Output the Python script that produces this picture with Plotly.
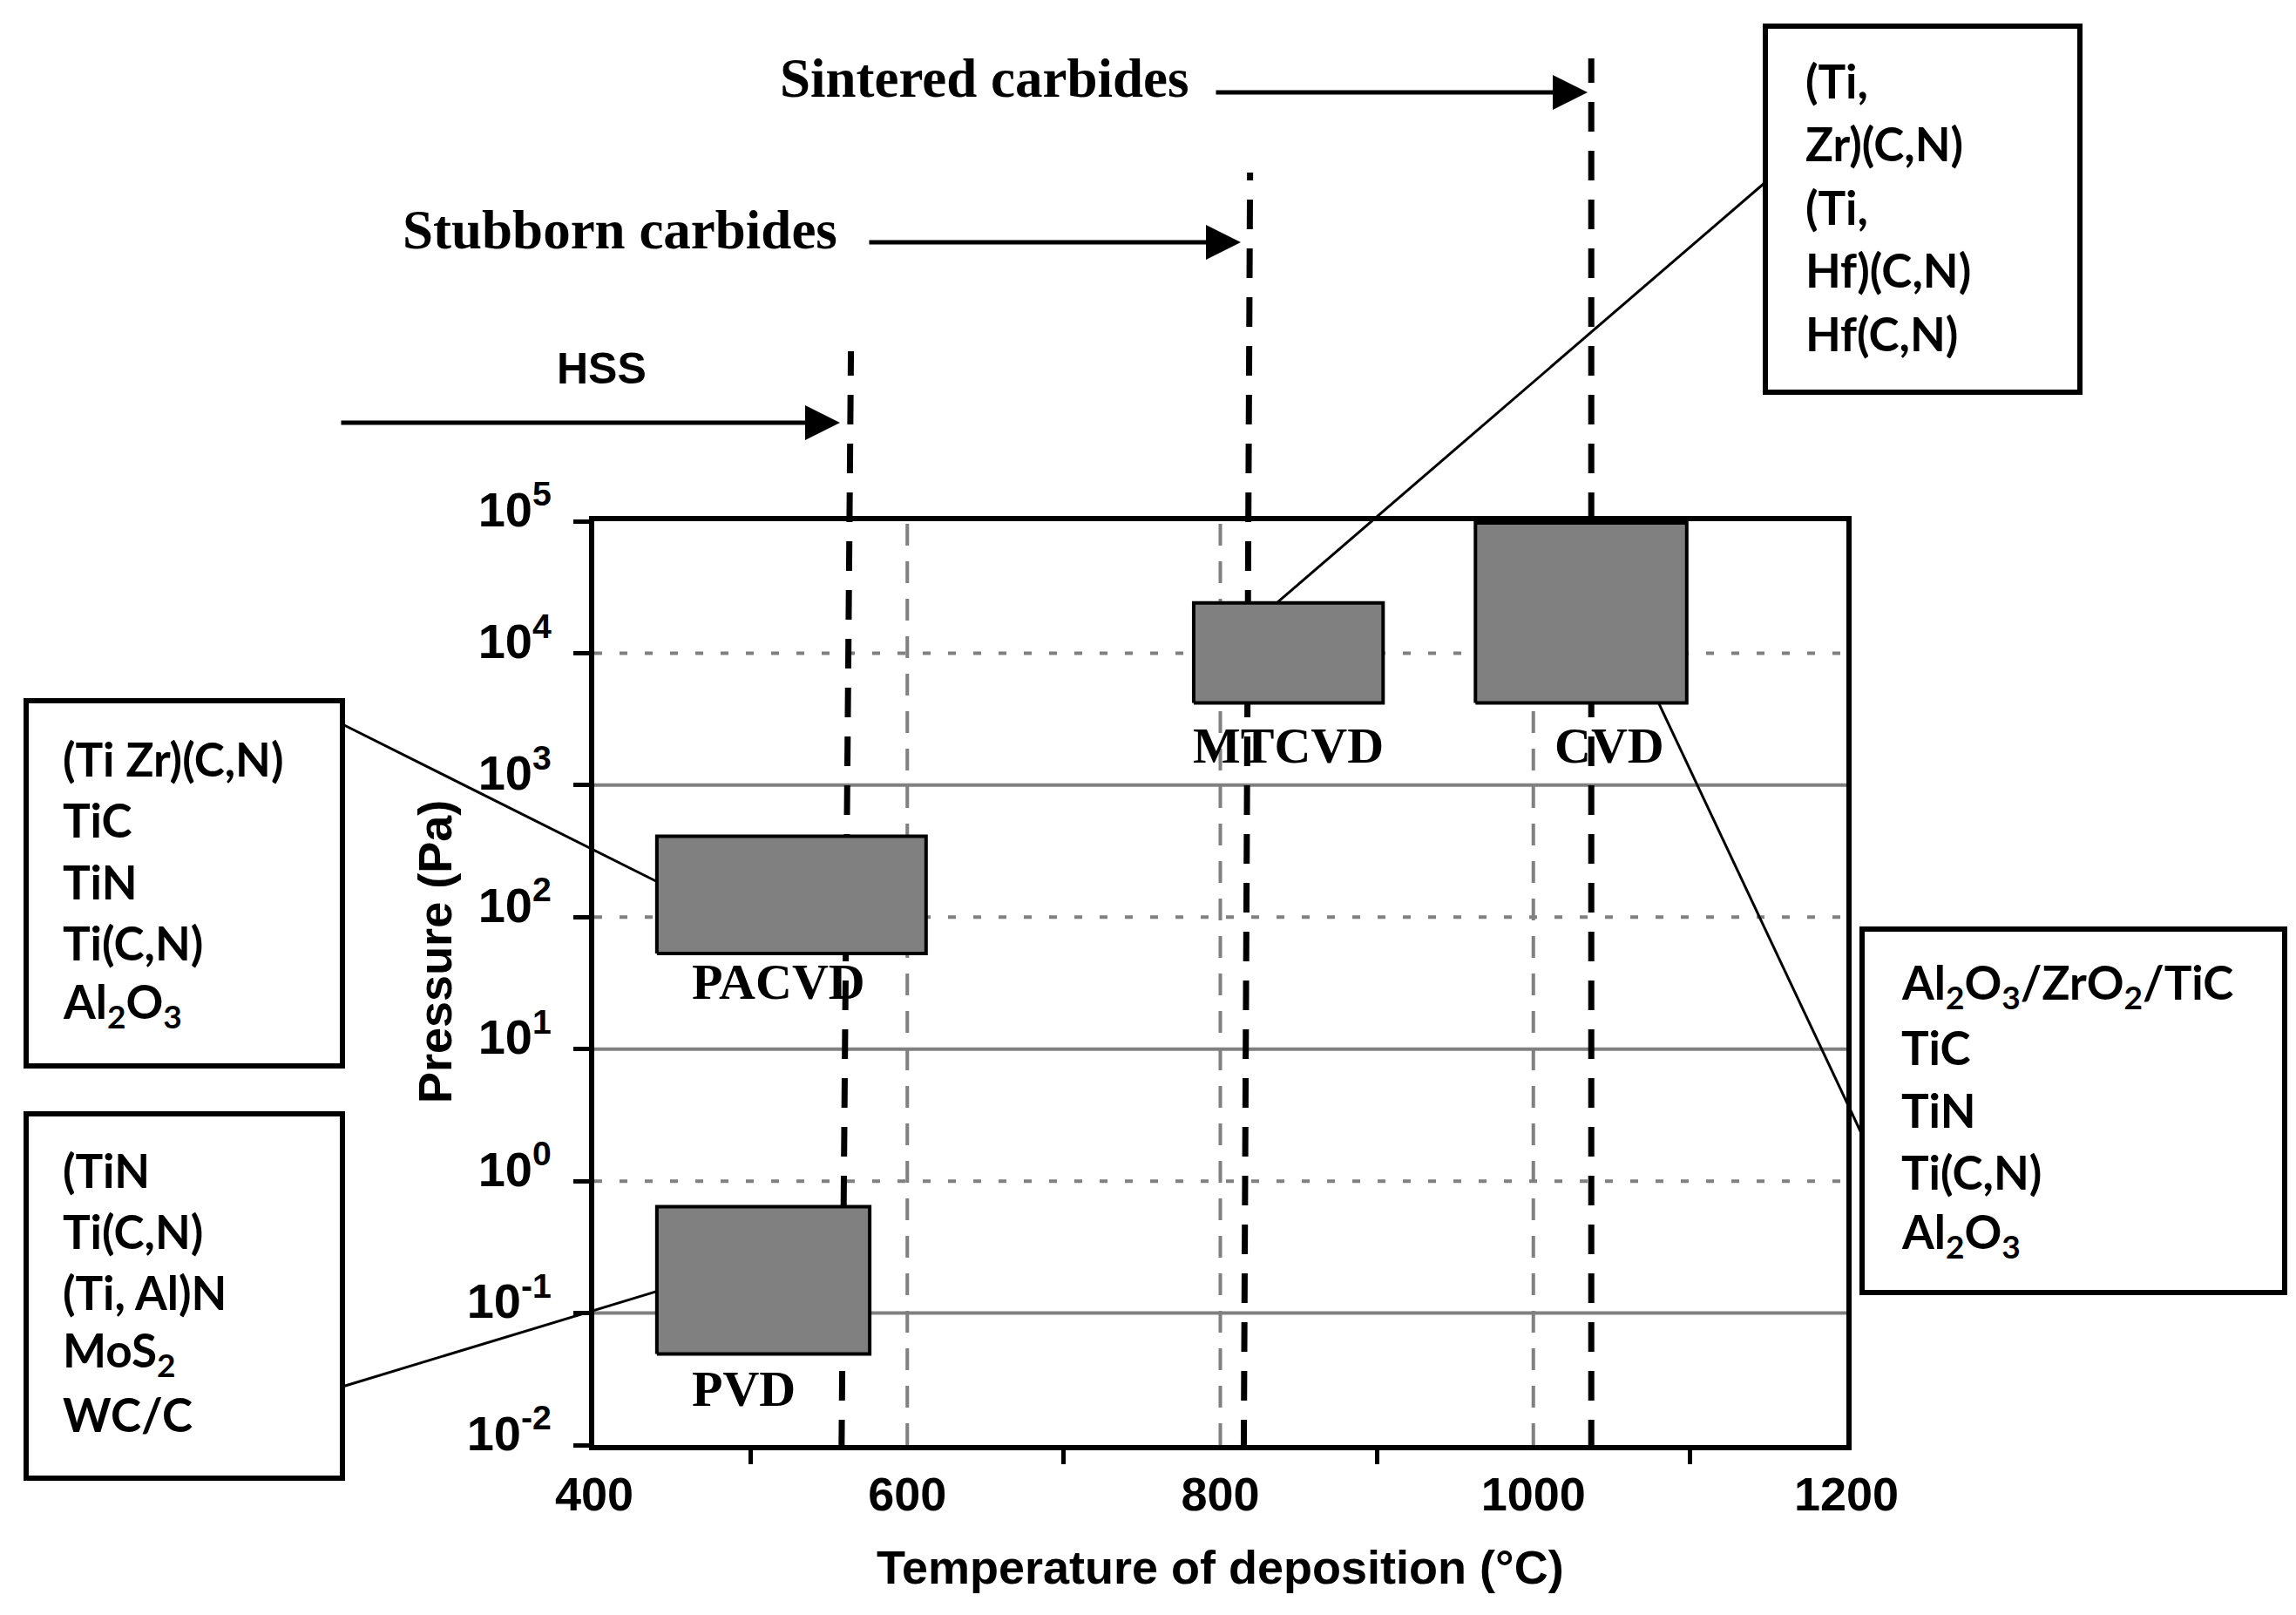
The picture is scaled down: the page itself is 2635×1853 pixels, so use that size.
import math
import plotly.graph_objects as go

# ---------------- data ----------------
processes = ["PACVD", "PVD", "MTCVD", "CVD"]
t_min = [440, 440, 783, 963]          # deposition temperature range (°C)
t_max = [612, 576, 904, 1098]
p_min = [53, 0.049, 4200, 4200]       # pressure range (Pa)
p_max = [410, 0.64, 24000, 97000]

substrates = ["HSS", "Stubborn carbides", "Sintered carbides"]
limit_t_bottom = [558, 815, 1037]     # substrate temperature limits (°C)
limit_t_top = [564, 819, 1037]

x_tick_vals = [400, 600, 800, 1000, 1200]
x_minor_vals = [500, 700, 900, 1100]
y_exponents = [-2, -1, 0, 1, 2, 3, 4, 5]
solid_grid_exps = [-1, 1, 3]
dotted_grid_exps = [0, 2, 4]
v_grid_temps = [600, 800, 1000]

coatings_pacvd = ["(Ti Zr)(C,N)", "TiC", "TiN", "Ti(C,N)", "Al<sub>2</sub>O<sub>3</sub>"]
coatings_pvd = ["(TiN", "Ti(C,N)", "(Ti, Al)N", "MoS<sub>2</sub>", "WC/C"]
coatings_mtcvd = ["(Ti,", "Zr)(C,N)", "(Ti,", "Hf)(C,N)", "Hf(C,N)"]
coatings_cvd = ["Al<sub>2</sub>O<sub>3</sub>/ZrO<sub>2</sub>/TiC", "TiC", "TiN", "Ti(C,N)",
                "Al<sub>2</sub>O<sub>3</sub>"]

# ---------------- geometry helpers ----------------
W, H = 2635, 1853
L, R, T, B = 674, 2111, 590, 1650
XR = (400, 1200)
YR = (-2, 5)


def px(p):
    return (p - L) / (R - L)


def py(p):
    return (B - p) / (B - T)


def dx(t):
    return (t - XR[0]) / (XR[1] - XR[0])


def dy(pa):
    return (math.log10(pa) - YR[0]) / (YR[1] - YR[0])


GRAY = "#808080"
SANS = "Liberation Sans"
SERIF = "Liberation Serif"
BOXFONT = "Lato"

fig = go.Figure()

# process boxes
for i, name in enumerate(processes):
    fig.add_trace(go.Scatter(
        x=[t_min[i], t_max[i], t_max[i], t_min[i], t_min[i]],
        y=[p_min[i], p_min[i], p_max[i], p_max[i], p_min[i]],
        mode="lines", fill="toself", fillcolor=GRAY,
        line=dict(color="black", width=4), name=name, showlegend=False,
        hoverinfo="skip"))

shapes = []
# gridlines
for e in solid_grid_exps:
    shapes.append(dict(type="line", xref="paper", yref="y", x0=0, x1=1, y0=10 ** e, y1=10 ** e,
                       line=dict(color=GRAY, width=4), layer="below"))
for e in dotted_grid_exps:
    shapes.append(dict(type="line", xref="paper", yref="y", x0=0, x1=1, y0=10 ** e, y1=10 ** e,
                       line=dict(color=GRAY, width=4, dash="9px,20px"), layer="below"))
for t in v_grid_temps:
    shapes.append(dict(type="line", xref="x", yref="paper", x0=t, x1=t, y0=0, y1=1,
                       line=dict(color=GRAY, width=4, dash="25px,18px"), layer="below"))

# substrate temperature limits (dashed black lines extending above the plot)
limit_tops_px = [395, 190, 59]
for i in range(len(substrates)):
    shapes.append(dict(type="line", xref="x", yref="paper",
                       x0=limit_t_bottom[i], x1=limit_t_top[i], y0=py(1655), y1=py(limit_tops_px[i]),
                       line=dict(color="black", width=7, dash="34px,22px"), layer="below"))

# text boxes (frames) in pixel positions
text_boxes = [
    (22, 385, 796, 1215),     # PACVD
    (22, 385, 1270, 1688),    # PVD
    (2018, 2379, 22, 442),    # MTCVD
    (2129, 2614, 1058, 1475), # CVD
]
for (x0, x1, y0, y1) in text_boxes:
    shapes.append(dict(type="rect", xref="paper", yref="paper",
                       x0=px(x0), x1=px(x1), y0=py(y0), y1=py(y1),
                       line=dict(color="black", width=6), fillcolor="rgba(0,0,0,0)"))

# leader lines: box edge (px) -> point on process rectangle (data)
leaders = [
    ((385, 823), (t_min[0], 186)),
    ((385, 1583), (t_min[1], 0.146)),
    ((2017, 202), (836, p_max[2])),
    ((2129, 1294), (1080, p_min[3])),
]
for (a, b) in leaders:
    shapes.append(dict(type="line", xref="paper", yref="paper",
                       x0=px(a[0]), y0=py(a[1]), x1=dx(b[0]), y1=dy(b[1]),
                       line=dict(color="black", width=3)))

annotations = []

# process labels under boxes
label_xshift = [-15, -23, 0, 32]
label_yshift = [-32, -40, -49, -49]
for i, name in enumerate(processes):
    annotations.append(dict(
        x=(t_min[i] + t_max[i]) / 2, y=math.log10(p_min[i]), xref="x", yref="y",
        text=name, showarrow=False, xanchor="center", yanchor="middle",
        xshift=label_xshift[i], yshift=label_yshift[i],
        font=dict(family=SERIF, size=58, color="black", weight="bold")))

# coating lists
lists = [coatings_pacvd, coatings_pvd, coatings_mtcvd, coatings_cvd]
list_x = [62, 62, 2062, 2172]
list_y0 = [862, 1334, 84, 1122]
list_dy = [70.5, 70, 72.5, 71.5]
for k, items in enumerate(lists):
    for j, txt in enumerate(items):
        annotations.append(dict(
            x=px(list_x[k]), y=py(list_y0[k] + j * list_dy[k]), xref="paper", yref="paper",
            text=txt, showarrow=False, xanchor="left", yanchor="middle",
            font=dict(family=BOXFONT, size=53, color="black", weight="bold")))

# substrate arrows and titles
arrow_y_px = [477, 270, 98]
arrow_tail_px = [382, 988, 1386]
arrow_tip_px = [956, 1416, 1814]
title_pos_px = [(682, 415), (703, 256), (1122, 82)]
title_fonts = [dict(family=SANS, size=50, color="black", weight="bold"),
               dict(family=SERIF, size=63, color="black", weight="bold"),
               dict(family=SERIF, size=63, color="black", weight="bold")]
for i, name in enumerate(substrates):
    annotations.append(dict(
        x=px(arrow_tip_px[i]), y=py(arrow_y_px[i]), xref="paper", yref="paper",
        ax=-(arrow_tip_px[i] - arrow_tail_px[i]), ay=0, text="", showarrow=True,
        arrowhead=2, arrowsize=1.6, arrowwidth=5, arrowcolor="black", standoff=0))
    annotations.append(dict(
        x=px(title_pos_px[i][0]), y=py(title_pos_px[i][1]), xref="paper", yref="paper",
        text=name, showarrow=False, xanchor="center", yanchor="middle",
        font=title_fonts[i]))

# axis titles
annotations.append(dict(x=px(1392), y=py(1790), xref="paper", yref="paper",
                        text="Temperature of deposition (°C)", showarrow=False,
                        xanchor="center", yanchor="middle",
                        font=dict(family=SANS, size=54, color="black", weight="bold")))
annotations.append(dict(x=px(491), y=py(1084), xref="paper", yref="paper",
                        text="Pressure (Pa)", showarrow=False, textangle=-90,
                        xanchor="center", yanchor="middle",
                        font=dict(family=SANS, size=54, color="black", weight="bold")))

fig.update_layout(
    width=W, height=H,
    margin=dict(l=L, r=W - R, t=T, b=H - B),
    paper_bgcolor="white", plot_bgcolor="white",
    shapes=shapes, annotations=annotations, showlegend=False,
    xaxis=dict(range=list(XR), tickvals=x_tick_vals, ticktext=[str(v) for v in x_tick_vals],
               ticks="", showgrid=False, zeroline=False,
               showline=True, linecolor="black", linewidth=6, mirror=True,
               tickfont=dict(family=SANS, size=54, color="black", weight="bold"),
               ticklabelstandoff=4,
               minor=dict(tickvals=x_minor_vals, ticks="outside", ticklen=16,
                          tickwidth=5, tickcolor="black", showgrid=False)),
    yaxis=dict(type="log", range=list(YR),
               tickvals=[10 ** e for e in y_exponents],
               ticktext=["10<sup>%d</sup>" % e for e in y_exponents],
               ticks="outside", ticklen=18, tickwidth=5, tickcolor="black",
               showgrid=False, zeroline=False,
               showline=True, linecolor="black", linewidth=6, mirror=True,
               tickfont=dict(family=SANS, size=56, color="black", weight="bold"),
               ticklabelstandoff=14, ticklabelshift=-14),
)

fig.write_html("out.html")
